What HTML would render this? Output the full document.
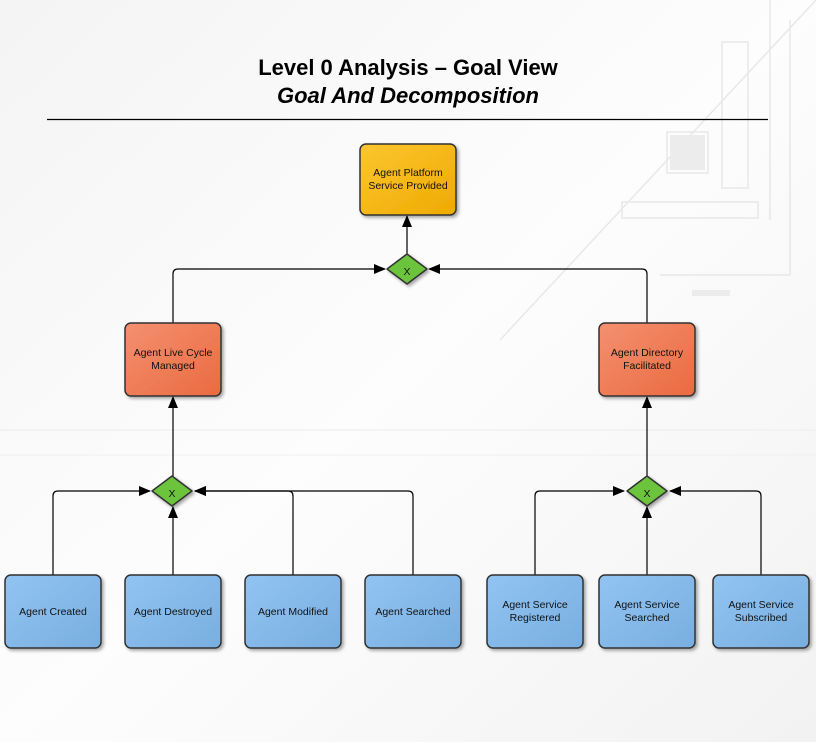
<!DOCTYPE html>
<html><head><style>
body{margin:0;width:816px;height:742px;overflow:hidden;background:#fff;font-family:"Liberation Sans",sans-serif}
</style></head><body>
<svg width="816" height="742" viewBox="0 0 816 742" xmlns="http://www.w3.org/2000/svg" font-family="Liberation Sans, sans-serif">
<defs>
<linearGradient id="bg" x1="0" y1="0" x2="1" y2="1"><stop offset="0" stop-color="#f4f4f4"/><stop offset="0.5" stop-color="#fdfdfd"/><stop offset="1" stop-color="#f2f2f2"/></linearGradient>
<linearGradient id="gy" x1="0" y1="0" x2="1" y2="1"><stop offset="0" stop-color="#fcc630"/><stop offset="1" stop-color="#eeaa00"/></linearGradient>
<linearGradient id="gr" x1="0" y1="0" x2="1" y2="1"><stop offset="0" stop-color="#f49070"/><stop offset="1" stop-color="#ea6a40"/></linearGradient>
<linearGradient id="gb" x1="0" y1="0" x2="1" y2="1"><stop offset="0" stop-color="#92c4f2"/><stop offset="1" stop-color="#78aee0"/></linearGradient>
<marker id="a" markerWidth="12" markerHeight="10" refX="11" refY="5" orient="auto" markerUnits="userSpaceOnUse"><path d="M0,0 L12,5 L0,10 Z" fill="#000"/></marker>
<filter id="s"><feDropShadow dx="2" dy="2" stdDeviation="1.5" flood-opacity="0.35"/></filter>
</defs>
<rect width="816" height="742" fill="url(#bg)"/>
<g fill="none" stroke="#e8e8e8" stroke-width="1.5">
<rect x="622" y="202" width="136" height="16"/><rect x="667" y="132" width="41" height="41"/><rect x="722" y="42" width="26" height="146"/>
<path d="M770,0 V220 M790,20 V275 M660,275 H790 M500,340 L816,0"/>
</g>
<g fill="#ececec"><rect x="670" y="135" width="35" height="35"/><rect x="692" y="290" width="38" height="6"/></g>
<line x1="0" y1="430" x2="816" y2="430" stroke="#ececec"/><line x1="0" y1="455" x2="816" y2="455" stroke="#f0f0f0"/>
<text x="408" y="75" text-anchor="middle" font-size="22" font-weight="bold">Level 0 Analysis – Goal View</text>
<text x="408" y="103" text-anchor="middle" font-size="22" font-weight="bold" font-style="italic">Goal And Decomposition</text>
<line x1="47" y1="119.5" x2="768" y2="119.5" stroke="#000" stroke-width="1.3"/>
<g fill="none" stroke="#000" stroke-width="1.2" marker-end="url(#a)">
<path d="M407,254 V216"/>
<path d="M173,323 V274 Q173,269 178,269 H385"/>
<path d="M647,323 V274 Q647,269 642,269 H429"/>
<path d="M173,476 V397"/>
<path d="M647,476 V397"/>
<path d="M53,575 V496 Q53,491 58,491 H150"/>
<path d="M173,575 V507"/>
<path d="M293,575 V496 Q293,491 288,491 H195"/>
<path d="M413,575 V496 Q413,491 408,491 H195"/>
<path d="M535,575 V496 Q535,491 540,491 H624"/>
<path d="M647,575 V507"/>
<path d="M761,575 V496 Q761,491 756,491 H670"/>
</g>
<g stroke="#333" stroke-width="1.5" filter="url(#s)">
<rect x="360" y="144" width="96" height="71" rx="6" fill="url(#gy)"/>
<rect x="125" y="323" width="96" height="73" rx="6" fill="url(#gr)"/>
<rect x="599" y="323" width="96" height="73" rx="6" fill="url(#gr)"/>
<rect x="5" y="575" width="96" height="73" rx="6" fill="url(#gb)"/>
<rect x="125" y="575" width="96" height="73" rx="6" fill="url(#gb)"/>
<rect x="245" y="575" width="96" height="73" rx="6" fill="url(#gb)"/>
<rect x="365" y="575" width="96" height="73" rx="6" fill="url(#gb)"/>
<rect x="487" y="575" width="96" height="73" rx="6" fill="url(#gb)"/>
<rect x="599" y="575" width="96" height="73" rx="6" fill="url(#gb)"/>
<rect x="713" y="575" width="96" height="73" rx="6" fill="url(#gb)"/>
<path d="M407,254 L427,269 L407,284 L387,269 Z" fill="#6cc43c" stroke-linejoin="round"/>
<path d="M172,476 L192,491 L172,506 L152,491 Z" fill="#6cc43c" stroke-linejoin="round"/>
<path d="M647,476 L667,491 L647,506 L627,491 Z" fill="#6cc43c" stroke-linejoin="round"/>
</g>
<g font-size="10.5" text-anchor="middle" fill="#111">
<text x="407" y="275">X</text><text x="172" y="497">X</text><text x="647" y="497">X</text>
<text x="408" y="176">Agent Platform</text><text x="408" y="189">Service Provided</text>
<text x="173" y="356">Agent Live Cycle</text><text x="173" y="369">Managed</text>
<text x="647" y="356">Agent Directory</text><text x="647" y="369">Facilitated</text>
<text x="53" y="615">Agent Created</text>
<text x="173" y="615">Agent Destroyed</text>
<text x="293" y="615">Agent Modified</text>
<text x="413" y="615">Agent Searched</text>
<text x="535" y="608">Agent Service</text><text x="535" y="621">Registered</text>
<text x="647" y="608">Agent Service</text><text x="647" y="621">Searched</text>
<text x="761" y="608">Agent Service</text><text x="761" y="621">Subscribed</text>
</g>
</svg>
</body></html>
